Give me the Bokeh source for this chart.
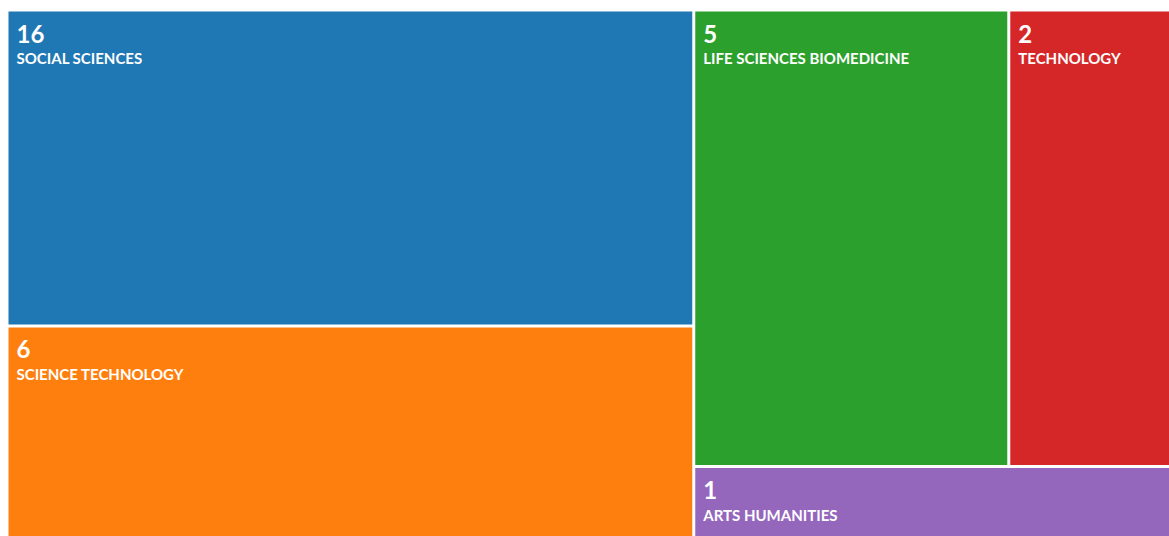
from bokeh.plotting import figure
from bokeh.models import ColumnDataSource, Range1d
from bokeh.core.properties import value
from bokeh.embed import file_html
from bokeh.resources import INLINE

# ---- data ----
categories = ["SOCIAL SCIENCES", "SCIENCE TECHNOLOGY", "LIFE SCIENCES BIOMEDICINE", "TECHNOLOGY", "ARTS HUMANITIES"]
counts = [16, 6, 5, 2, 1]
# tile sizes (share of the area, %)
sizes = [35.3, 23.7, 23.4, 12.05, 5.55]
colors = ["#1f77b4", "#ff7f0e", "#2ca02c", "#d62728", "#9467bd"]

W, H = 1169, 536
BOX = (6.5, 9.5, 1170.5, 537.5)  # x0, y0, x1, y1 (pixels, y down)
GAP = 1.5
PHI = (1 + 5 ** 0.5) / 2


def squarify(vals, x0, y0, x1, y1, ratio=PHI):
    out = [None] * len(vals)
    total = float(sum(vals))
    i0 = i1 = 0
    n = len(vals)
    while i0 < n:
        dx, dy = x1 - x0, y1 - y0
        s = vals[i1]; i1 += 1
        mn = mx = s
        alpha = max(dy / dx, dx / dy) / (total * ratio)
        beta = s * s * alpha
        min_ratio = max(mx / beta, beta / mn)
        while i1 < n:
            v = vals[i1]
            s2 = s + v
            mn2, mx2 = min(mn, v), max(mx, v)
            beta = s2 * s2 * alpha
            nr = max(mx2 / beta, beta / mn2)
            if nr > min_ratio:
                break
            s, mn, mx, min_ratio = s2, mn2, mx2, nr
            i1 += 1
        row = list(range(i0, i1))
        if dx < dy:  # dice: row across the top
            ny = y0 + dy * s / total
            cx = x0
            for k in row:
                w = dx * vals[k] / s
                out[k] = (cx, y0, cx + w, ny)
                cx += w
            y0 = ny
        else:  # slice: column at the left
            nx = x0 + dx * s / total
            cy = y0
            for k in row:
                h = dy * vals[k] / s
                out[k] = (x0, cy, nx, cy + h)
                cy += h
            x0 = nx
        total -= s
        i0 = i1
    return out


rects = squarify(sizes, *BOX)
left = [r[0] + GAP for r in rects]
right = [r[2] - GAP for r in rects]
top = [r[1] + GAP for r in rects]
bottom = [r[3] - GAP for r in rects]

src = ColumnDataSource(dict(
    left=left, right=right, top=top, bottom=bottom, color=colors,
    num=[str(c) for c in counts], name=categories,
    tx=[l + 8 for l in left], ny=[t + 22 for t in top], ly=[t + 46.5 for t in top],
))

p = figure(width=W, height=H, output_backend="svg", toolbar_location=None,
           x_range=Range1d(0, W), y_range=Range1d(H, 0),
           min_border=0, outline_line_color=None)
p.axis.visible = False
p.grid.visible = False
p.background_fill_color = "white"
p.border_fill_color = "white"

p.quad(left="left", right="right", top="top", bottom="bottom", source=src,
       fill_color="color", line_color=None)

p.text(x="tx", y="ny", text="num", source=src, text_color="white",
       text_font=value("Lato"), text_font_style="bold", text_font_size="24px",
       text_baseline="alphabetic", text_align="left")
p.text(x="tx", y="ly", text="name", source=src, text_color="white",
       text_font=value("Lato"), text_font_style="bold", text_font_size="15px",
       text_baseline="alphabetic", text_align="left")

open("out.html", "w").write(file_html(p, INLINE))
